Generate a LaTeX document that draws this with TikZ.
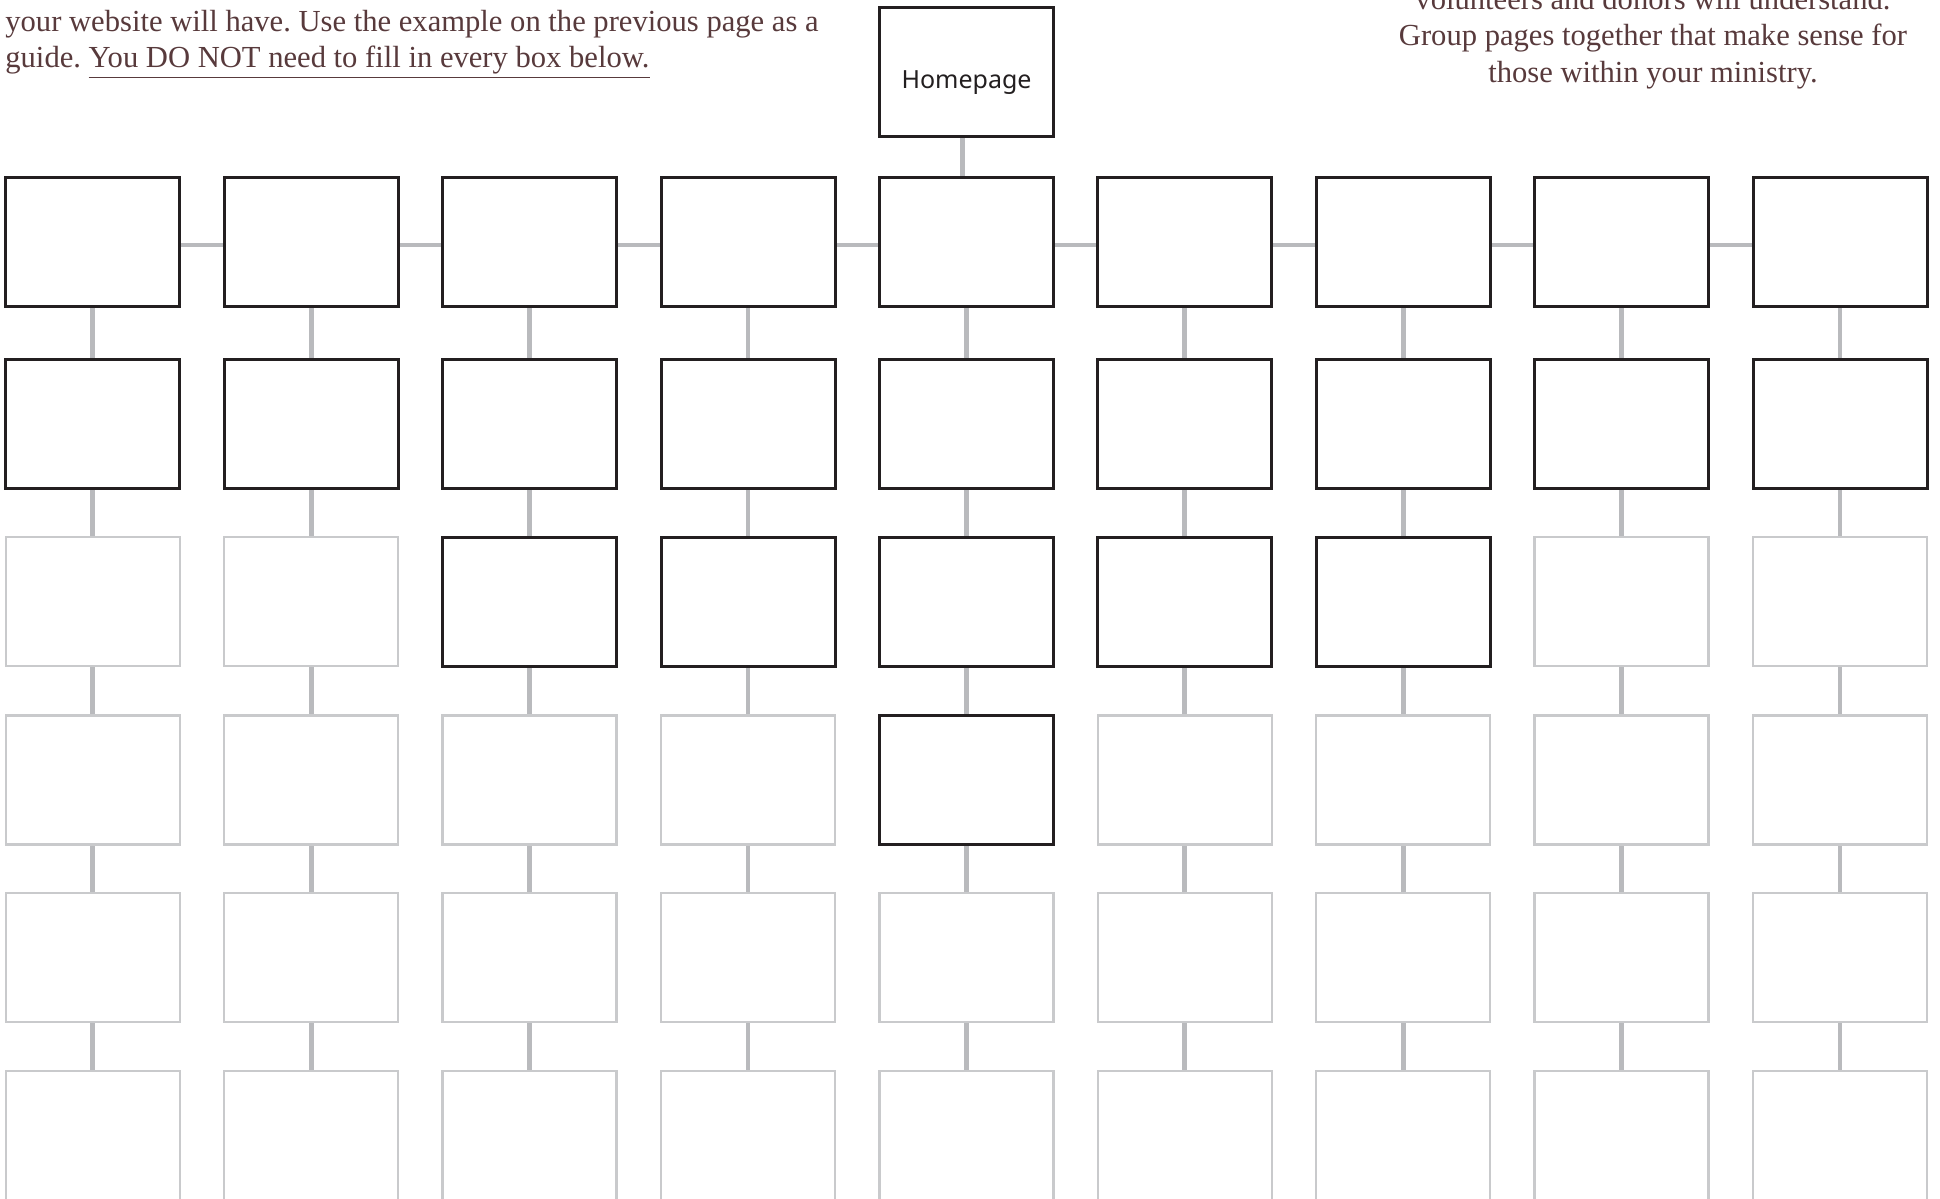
\documentclass[tikz,border=0pt]{standalone}
\usepackage{fontspec}
\setmainfont{Liberation Serif}
\newfontfamily\handfont{Noto Sans}
\definecolor{darkc}{RGB}{35,31,32}
\definecolor{lightc}{RGB}{201,202,204}
\definecolor{connc}{RGB}{185,186,189}
\definecolor{textc}{RGB}{88,58,60}
\pgfdeclarelayer{paper}
\pgfdeclarelayer{bg}
\pgfsetlayers{paper,bg,main}
\frenchspacing
\tikzset{
  darkbox/.style={draw=darkc, line width=1.5pt, fill=white, minimum width=87pt, minimum height=64.5pt, inner sep=0pt},
  lightbox/.style={draw=lightc, line width=1.2pt, fill=white, minimum width=87pt, minimum height=64.5pt, inner sep=0pt},
  conn/.style={draw=connc, line width=2.4pt},
  bodytext/.style={text=textc, inner sep=0pt, font=\fontsize{15.3}{18}\selectfont},
  handtext/.style={text=darkc, inner sep=0pt, font=\handfont\fontsize{12.5}{14}\selectfont}
}
\begin{document}
\begin{tikzpicture}[x=0.5pt,y=-0.5pt]
\clip (0,0) rectangle (1940,1199);
\begin{pgfonlayer}{paper}
\fill[white] (0,0) rectangle (1940,1199);
\end{pgfonlayer}
% homepage
\node[darkbox] (home) at (966.5,71.5) {};
\node[handtext] (homelabel) at (966.5,83) {Homepage};
% grid of boxes
\foreach \c in {1,...,9}{
  \foreach \r/\yy in {1/241.9,2/424.3,3/601.7,4/779.8,5/957.6,6/1135.5}{
    \pgfmathtruncatemacro\isdark{or(\r<3, or(and(\r==3, and(\c>2,\c<8)), and(\r==4,\c==5)))}
    \ifnum\isdark=1
      \node[darkbox] (b\r-\c) at ({92.8+218.4*(\c-1)},\yy) {};
    \else
      \node[lightbox] (b\r-\c) at ({92.8+218.4*(\c-1)},\yy) {};
    \fi
  }
}
% connectors
\begin{pgfonlayer}{bg}
\draw[conn] ([xshift=-2pt]home.south) -- ([xshift=-2pt]b1-5.north);
\foreach \c in {1,...,9}{
  \foreach \r [evaluate=\r as \n using int(\r+1)] in {1,...,5}{
    \draw[conn] (b\r-\c.south) -- (b\n-\c.north);
  }
}
\foreach \c [evaluate=\c as \n using int(\c+1)] in {1,...,8}{
  \draw[conn] ([yshift=-1.5pt]b1-\c.east) -- ([yshift=-1.5pt]b1-\n.west);
}
\end{pgfonlayer}
% texts
\node[bodytext, anchor=base west] (tl2) at (5,32) {your website will have. Use the example on the previous page as a};
\node[bodytext, anchor=base west] (tl3) at (5,68) {guide. \underline{You DO NOT need to fill in every box below.}};
\node[bodytext, anchor=base] (tr1) at (1653,10) {volunteers and donors will understand.};
\node[bodytext, anchor=base] (tr2) at (1653,46) {Group pages together that make sense for};
\node[bodytext, anchor=base] (tr3) at (1653,83) {those within your ministry.};
\end{tikzpicture}
\end{document}
